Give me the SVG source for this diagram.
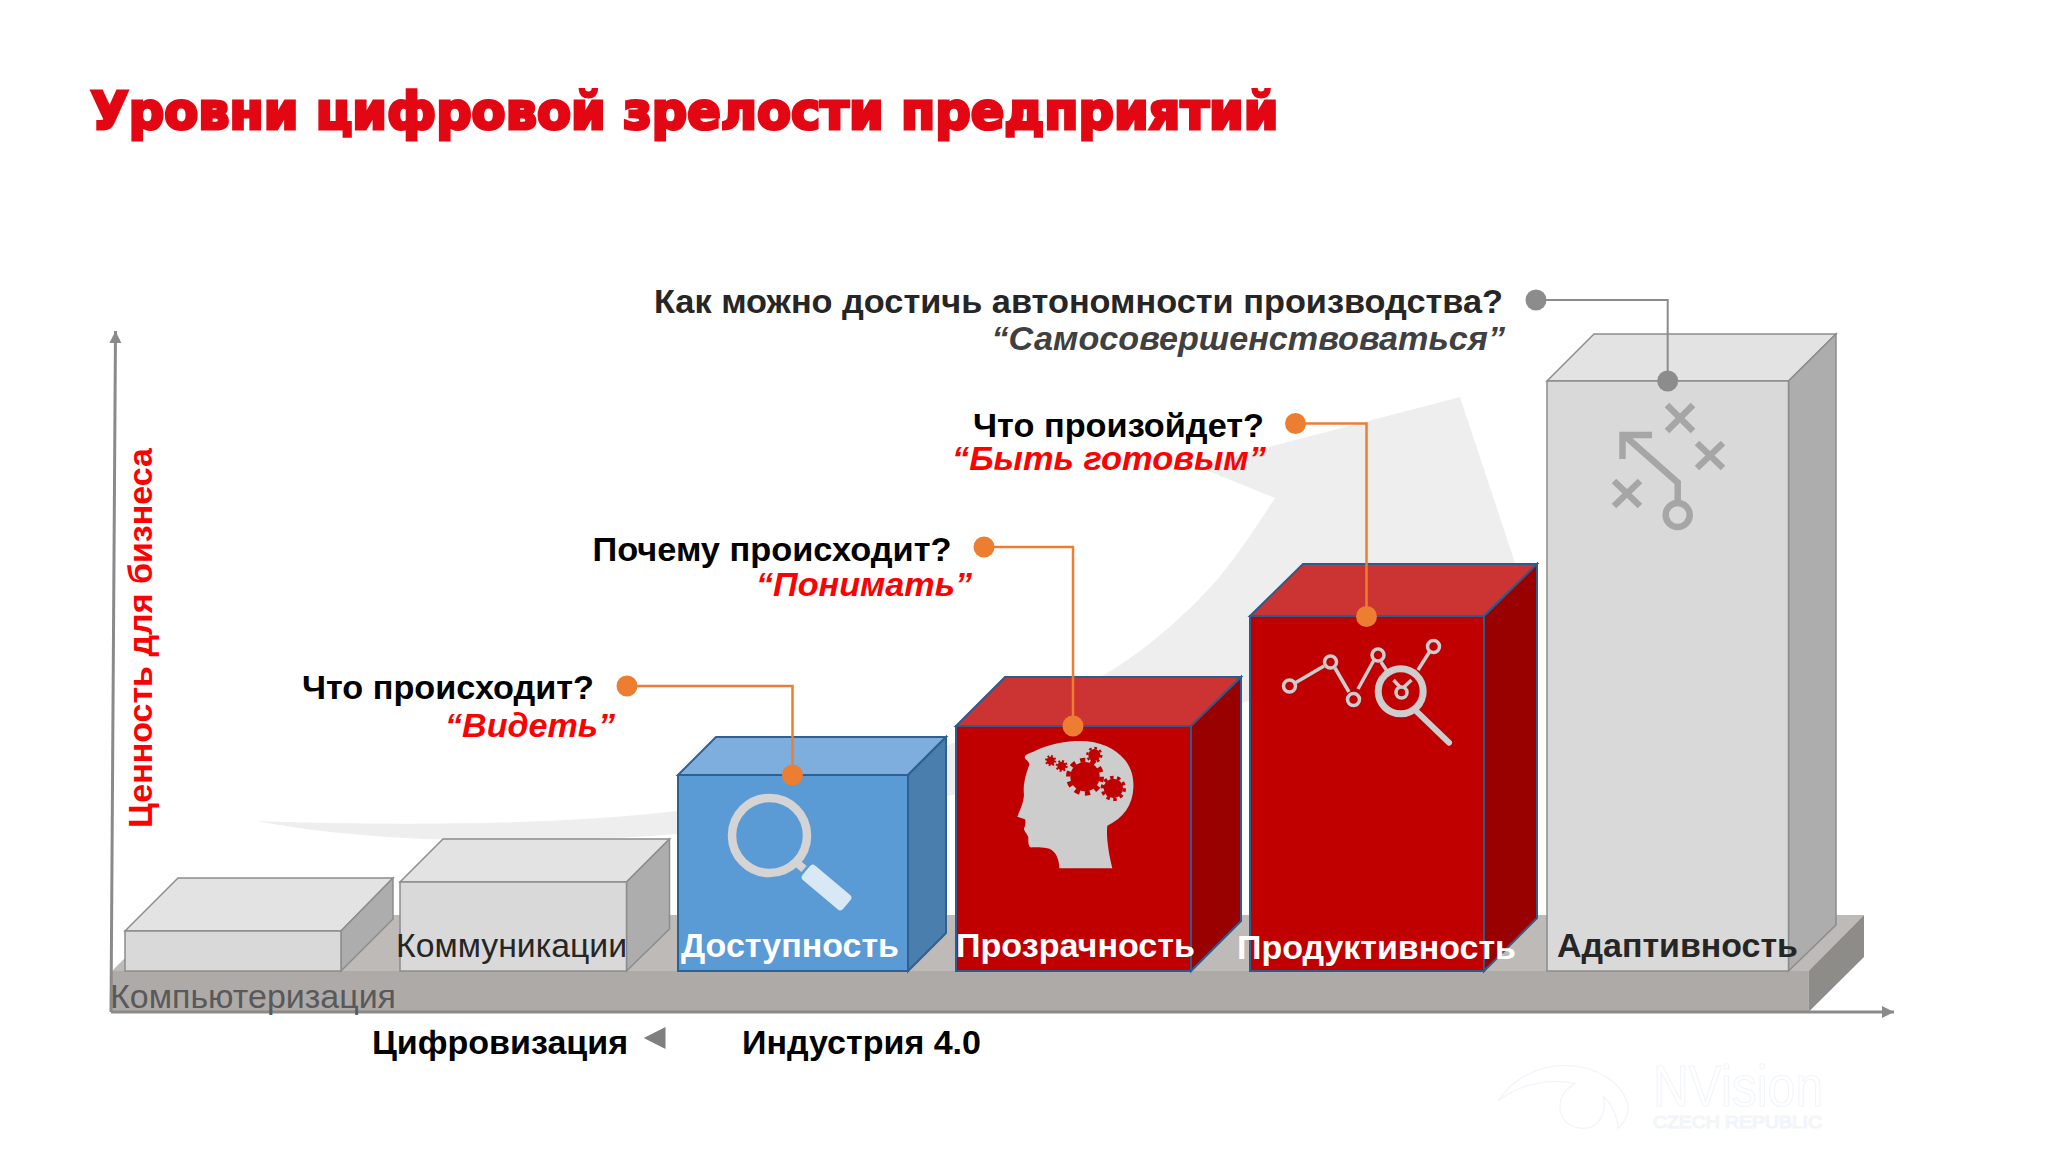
<svg xmlns="http://www.w3.org/2000/svg" width="2048" height="1152" viewBox="0 0 2048 1152">
<defs>
<style>
text{font-family:"Liberation Sans",Arial,sans-serif}
.b{font-weight:700}
.q{font-weight:700;font-size:34px;fill:#000}
.a{font-weight:700;font-style:italic;font-size:34px;fill:#f00}
.l{font-size:34px;font-weight:700}
.gf{fill:#d9d9d9;stroke:#8c8c8c;stroke-width:1.5}
.gt{fill:#e3e3e3;stroke:#8c8c8c;stroke-width:1.5}
.gs{fill:#adadad;stroke:#8c8c8c;stroke-width:1.5}
.bf{fill:#5b9bd5;stroke:#2f6190;stroke-width:2}
.bt{fill:#7daede;stroke:#2f6190;stroke-width:2}
.bs{fill:#4a7ead;stroke:#2f6190;stroke-width:2}
.rf{fill:#c00000;stroke:#2e5c8a;stroke-width:2}
.rt{fill:#cc3333;stroke:#2e5c8a;stroke-width:2}
.rs{fill:#990000;stroke:#2e5c8a;stroke-width:2}
.oc{fill:none;stroke:#ed7d31;stroke-width:2.5}
.od{fill:#ed7d31}
.ic{fill:none;stroke:#a6a6a6;stroke-width:6.5}
.ch{fill:none;stroke:#cdcdcd;stroke-width:3.5}
.gear{fill:#c00000}
.wm{fill:none;stroke:#f1f4f9;stroke-width:1.2}
</style>
<marker id="ah" markerUnits="userSpaceOnUse" markerWidth="14" markerHeight="14" refX="12" refY="6" orient="auto"><path d="M0 0L12 6L0 12z" fill="#8a8a8a"/></marker>
</defs>
<rect width="2048" height="1152" fill="#fff"/>
<path id="swoosh" d="M257 821C400 826 560 825 677 811C850 785 1000 735 1104 675C1150 648 1190 610 1217 580C1240 552 1258 524 1275 498L1196 466L1460 397L1515 563L1530 620L1245 702C1100 770 900 815 700 832C560 845 380 845 257 821z" fill="#eeeeee"/>
<g id="floor">
<polygon points="112,971 168,915 1864,915 1808.5,971" fill="#bdbab8"/>
<rect x="110" y="971" width="1698.5" height="40" fill="#aeaaa8"/>
<polygon points="1808.5,971 1864,915 1864,957 1808.5,1012" fill="#8d8c88"/>
</g>
<g id="axes" fill="none" stroke="#8a8a8a" stroke-width="3">
<path d="M111 1012L115.5 331" marker-end="url(#ah)"/>
<path d="M111 1012L1894 1012" marker-end="url(#ah)"/>
</g>
<g id="node-computerization">
<polygon class="gt" points="125,931 178,878 393,878 341,931"/>
<polygon class="gs" points="341,931 393,878 393,919 341,971"/>
<rect class="gf" x="125" y="931" width="216" height="40"/>
<text x="110" y="1008" font-size="34" fill="#595959" textLength="286" lengthAdjust="spacingAndGlyphs">Компьютеризация</text>
</g>
<g id="node-communications">
<polygon class="gt" points="400,882 443,839 669.5,839 626.5,882"/>
<polygon class="gs" points="626.5,882 669.5,839 669.5,929 626.5,971"/>
<rect class="gf" x="400" y="882" width="226.5" height="89"/>
<text x="396" y="957" font-size="34" fill="#262626" textLength="231" lengthAdjust="spacingAndGlyphs">Коммуникации</text>
</g>
<g id="node-availability">
<polygon class="bt" points="678,775 716,737 946,737 908,775"/>
<polygon class="bs" points="908,775 946,737 946,933 908,971"/>
<rect class="bf" x="678" y="775" width="230" height="196"/>
<circle cx="769.5" cy="835.5" r="37.5" fill="none" stroke="#d4d4d4" stroke-width="8.5"/>
<path d="M796 862L804 869" stroke="#d4d4d4" stroke-width="8"/>
<rect x="800" y="878" width="53" height="19" rx="4" transform="rotate(40 826.5 887.5)" fill="#d8e8f5"/>
<text class="l" x="681" y="957" fill="#fff" textLength="218" lengthAdjust="spacingAndGlyphs">Доступность</text>
</g>
<g id="node-transparency">
<polygon class="rt" points="956,726 1005,677 1241,677 1191,726"/>
<polygon class="rs" points="1191,726 1241,677 1241,921 1191,971"/>
<rect class="rf" x="956" y="726" width="235" height="245"/>
<g transform="translate(1000 730) scale(.3333)">
<path d="M75 85C72 78 78 72 100 65C150 40 200 33 240 33C300 33 345 55 375 90C395 115 402 145 400 175C398 225 370 265 322 287C318 320 326 370 337 415L178 415C178 395 172 372 155 360C140 350 110 354 92 352C84 348 85 335 85 322C82 312 72 305 72 295C76 288 78 275 75 268L52 260C60 240 70 220 72 195C68 165 78 130 88 105C90 98 80 92 75 85z" fill="#cdcdcd"/>
<g class="gear">
<circle cx="255" cy="140" r="44"/><circle cx="255" cy="140" r="50" fill="none" stroke="#c00000" stroke-width="14" pathLength="20" stroke-dasharray="1 1"/>
<circle cx="340" cy="175" r="29"/><circle cx="340" cy="175" r="33" fill="none" stroke="#c00000" stroke-width="10" pathLength="20" stroke-dasharray="1 1"/>
<circle cx="283" cy="75" r="18"/><circle cx="283" cy="75" r="21" fill="none" stroke="#c00000" stroke-width="7" pathLength="16" stroke-dasharray="1 1"/>
<circle cx="185" cy="108" r="13"/><circle cx="185" cy="108" r="15" fill="none" stroke="#c00000" stroke-width="6" pathLength="16" stroke-dasharray="1 1"/>
<circle cx="152" cy="92" r="12"/><circle cx="152" cy="92" r="14" fill="none" stroke="#c00000" stroke-width="6" pathLength="16" stroke-dasharray="1 1"/>
</g>
</g>
<text class="l" x="956" y="957" fill="#fff" textLength="239" lengthAdjust="spacingAndGlyphs">Прозрачность</text>
</g>
<g id="node-productivity">
<polygon class="rt" points="1250,616 1303,564 1537,564 1484,616"/>
<polygon class="rs" points="1484,616 1537,564 1537,918 1484,971"/>
<rect class="rf" x="1250" y="616" width="234" height="355"/>
<path class="ch" d="M1295 683L1324 666M1335 668L1349 692M1358 689L1374 660M1381 662L1387 671M1418 670L1430 651"/>
<circle class="ch" cx="1289.5" cy="686" r="6"/><circle class="ch" cx="1330.5" cy="662" r="6"/><circle class="ch" cx="1353.5" cy="699.5" r="6"/><circle class="ch" cx="1378" cy="655" r="6"/><circle class="ch" cx="1433.5" cy="646.5" r="6"/>
<circle cx="1400.7" cy="691.3" r="22.5" fill="none" stroke="#cdcdcd" stroke-width="7"/>
<path d="M1416.8 711.7L1449 742.7" fill="none" stroke="#cdcdcd" stroke-width="6" stroke-linecap="round"/>
<circle class="ch" cx="1401.5" cy="692.5" r="5.5"/>
<path class="ch" d="M1393.5 680L1400 687M1411.5 680L1404 687"/>
<text class="l" x="1237" y="959" fill="#fff" textLength="279" lengthAdjust="spacingAndGlyphs">Продуктивность</text>
</g>
<g id="node-adaptivity">
<polygon class="gt" points="1547,381 1594,334 1836,334 1788.5,381"/>
<polygon class="gs" points="1788.5,381 1836,334 1836,925 1788.5,971"/>
<rect class="gf" x="1547" y="381" width="241.5" height="590"/>
<path class="ic" d="M1667 405L1693 431M1693 405L1667 431M1697 443L1723 468M1723 443L1697 468M1614 481L1640 506M1640 481L1614 506"/>
<path class="ic" d="M1677.7 502L1677.7 482.5L1625 436M1652 435L1622.5 435L1622.5 459"/>
<circle class="ic" cx="1677.7" cy="515" r="12"/>
<text class="l" x="1557" y="957" fill="#262626" textLength="241" lengthAdjust="spacingAndGlyphs">Адаптивность</text>
</g>
<g id="title">
<text x="90.5" y="129" font-size="52" font-weight="700" style="font-family:'DejaVu Sans',sans-serif" fill="#e30613" stroke="#e30613" stroke-width="3.2" textLength="1188" lengthAdjust="spacingAndGlyphs">Уровни цифровой зрелости предприятий</text>
</g>
<g id="axis-labels">
<text class="b" transform="translate(152 828) rotate(-90)" font-size="34" fill="#f00" textLength="380" lengthAdjust="spacingAndGlyphs">Ценность для бизнеса</text>
<text class="l" x="372" y="1054" fill="#000" textLength="256" lengthAdjust="spacingAndGlyphs">Цифровизация</text>
<polygon points="643.7,1038 665.5,1027 665.5,1049" fill="#7f7f7f"/>
<text class="l" x="742" y="1054" fill="#000" textLength="239" lengthAdjust="spacingAndGlyphs">Индустрия 4.0</text>
</g>
<g id="questions">
<text class="q" x="302" y="699" textLength="292" lengthAdjust="spacingAndGlyphs">Что происходит?</text>
<text class="a" x="445" y="737" textLength="170" lengthAdjust="spacingAndGlyphs">“Видеть”</text>
<text class="q" x="592.5" y="561" textLength="359" lengthAdjust="spacingAndGlyphs">Почему происходит?</text>
<text class="a" x="756" y="596" textLength="216" lengthAdjust="spacingAndGlyphs">“Понимать”</text>
<text class="q" x="973" y="437" textLength="291" lengthAdjust="spacingAndGlyphs">Что произойдет?</text>
<text class="a" x="952" y="470" textLength="314" lengthAdjust="spacingAndGlyphs">“Быть готовым”</text>
<text class="q" x="654" y="313" style="fill:#262626" textLength="849" lengthAdjust="spacingAndGlyphs">Как можно достичь автономности производства?</text>
<text class="a" x="991.5" y="350" style="fill:#404040" textLength="513.5" lengthAdjust="spacingAndGlyphs">“Самосовершенствоваться”</text>
</g>
<g id="connectors">
<path class="oc" d="M627 686H792.5V775"/>
<circle class="od" cx="627" cy="686" r="10.5"/><circle class="od" cx="792.5" cy="775" r="10.5"/>
<path class="oc" d="M984 547H1073V726"/>
<circle class="od" cx="984" cy="547" r="10.5"/><circle class="od" cx="1073" cy="726" r="10.5"/>
<path class="oc" d="M1295.5 423.5H1366.5V616.5"/>
<circle class="od" cx="1295.5" cy="423.5" r="10.5"/><circle class="od" cx="1366.5" cy="616.5" r="10.5"/>
<path d="M1536 300H1667.7V381" fill="none" stroke="#8c8c8c" stroke-width="2"/>
<circle cx="1536" cy="300" r="10.5" fill="#8c8c8c"/><circle cx="1667.7" cy="381" r="10.5" fill="#8c8c8c"/>
</g>
<g id="watermark">
<g transform="translate(1440 1040) scale(.3333)">
<path class="wm" style="stroke-width:4" d="M175 183C220 110 300 78 370 76C470 75 550 130 565 200C565 225 550 250 535 265C530 225 515 190 490 170C500 215 480 265 430 265C385 265 360 235 360 200C360 170 380 145 405 130C330 115 240 130 175 183z"/>
</g>
<text x="1653" y="1106" font-size="58" class="wm" textLength="170" lengthAdjust="spacingAndGlyphs">NVision</text>
<text x="1653" y="1128" font-size="17" class="wm" textLength="169" lengthAdjust="spacingAndGlyphs">CZECH REPUBLIC</text>
</g>
</svg>
